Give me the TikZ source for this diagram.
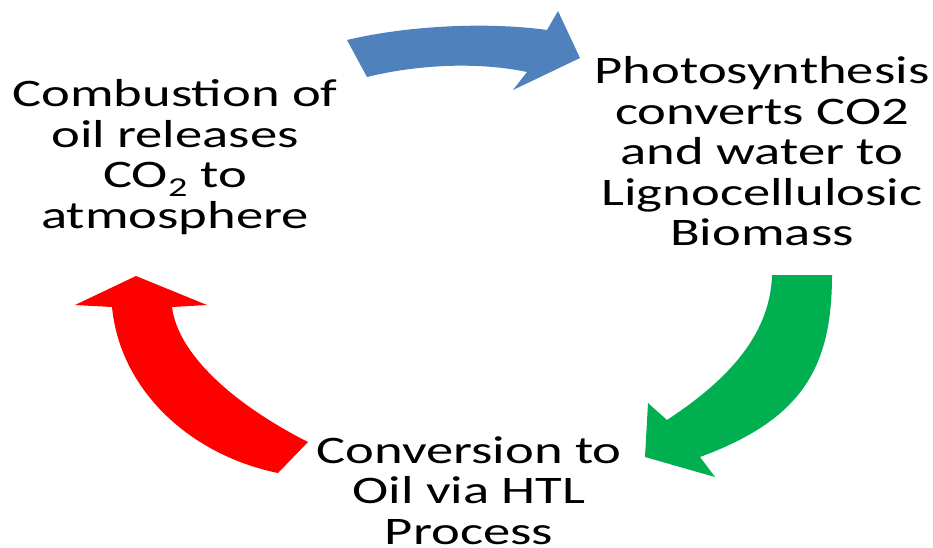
\documentclass[tikz,border=0pt]{standalone}
\usepackage{fontspec}
\usepackage{tikz}
\usetikzlibrary{positioning}
\newfontfamily\cyclefont[FakeStretch=1.4]{Carlito}
\definecolor{arrowblue}{RGB}{79,129,189}
\definecolor{arrowgreen}{RGB}{0,176,80}
\definecolor{arrowred}{RGB}{255,0,0}
\tikzset{cycletext/.style = {font=\cyclefont\fontsize{39}{40.5}\selectfont,
                             align=center, inner sep=0pt}}

\begin{document}
\begin{tikzpicture}[x=1pt, y=-1pt]
    \useasboundingbox (0, 0) rectangle (933, 547);
    \node [cycletext] (combustion) at (175, 157) {Combustion of\\oil releases\\CO\textsubscript{2} to\\atmosphere};
    \node [cycletext] (photo) at (762, 151.5) {Photosynthesis\\converts CO2\\and water to\\Lignocellulosic\\Biomass};
    \node [cycletext] (conversion) at (469, 490.5) {Conversion to\\Oil via HTL\\Process};
    % blue: combustion -> photosynthesis
    \fill [arrowblue] (347, 40) .. controls (410, 25) and (490, 22) .. (547, 30)
        -- (558, 11) -- (580, 58) -- (513, 90) -- (527, 72)
        .. controls (480, 62) and (420, 64) .. (367, 77) -- cycle;
    % green: photosynthesis -> conversion
    \fill [arrowgreen] (772, 275) -- (832, 275) .. controls (832, 370) and (800, 420) .. (700, 457)
        -- (715, 477) -- (645, 457) -- (648, 403) -- (667, 420)
        .. controls (720, 385) and (770, 340) .. (772, 275) -- cycle;
    % red: conversion -> combustion
    \fill [arrowred] (308, 442) -- (278, 473) .. controls (190, 455) and (120, 390) .. (112, 307)
        -- (75, 305) -- (136, 276) -- (207, 305) -- (172, 307)
        .. controls (178, 355) and (235, 405) .. (308, 442) -- cycle;
\end{tikzpicture}
\end{document}
